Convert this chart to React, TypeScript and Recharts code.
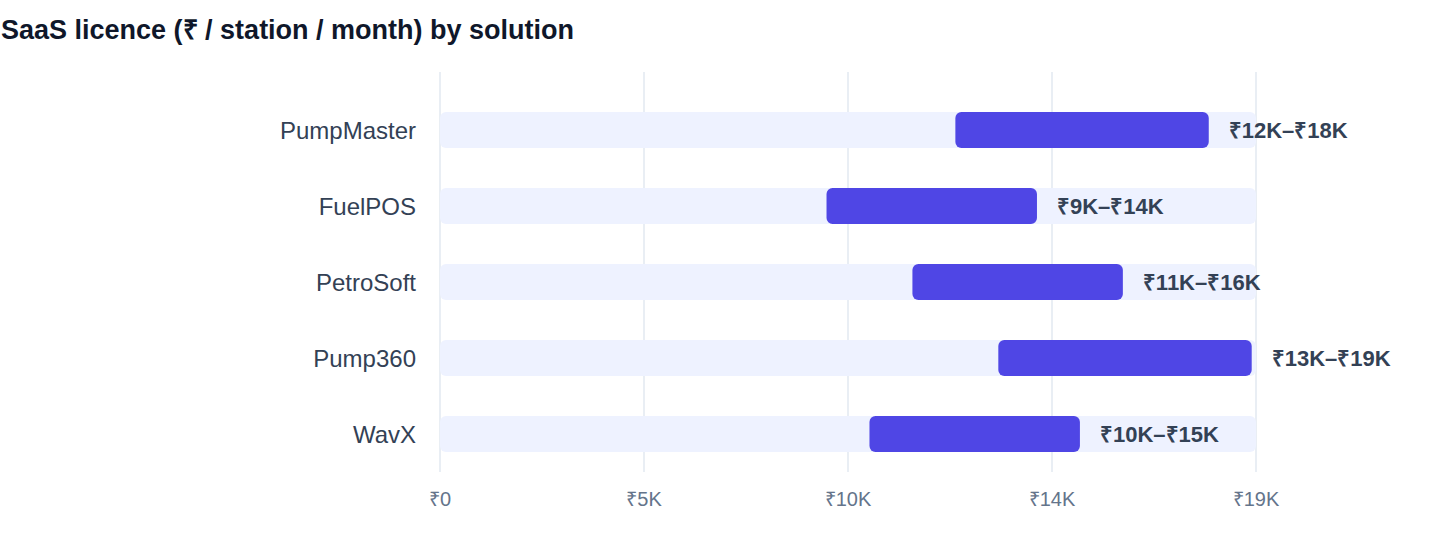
import React from 'react';
import { BarChart, Bar, XAxis, YAxis, CartesianGrid, LabelList } from 'recharts';

const solutions = ['PumpMaster', 'FuelPOS', 'PetroSoft', 'Pump360', 'WavX'];
const lowValues = [12000, 9000, 11000, 13000, 10000];
const highValues = [17900, 13900, 15900, 18900, 14900];
const xTicks = [0, 4750, 9500, 14250, 19000];

const fmtK = (v: number) => (v === 0 ? '₹0' : `₹${Math.round(v / 1000)}K`);

const data = solutions.map((name, i) => ({
  name,
  range: [lowValues[i], highValues[i]],
  label: `${fmtK(lowValues[i])}–${fmtK(highValues[i])}`,
}));

const FONT = '"Liberation Sans", Arial, sans-serif';

export default function App() {
  return (
    <div style={{ position: 'absolute', left: 0, top: 0, width: 1440, height: 560, background: '#fff', fontFamily: FONT }}>
      <div
        style={{
          position: 'absolute',
          left: 1,
          top: 14,
          fontSize: 27,
          fontWeight: 700,
          color: '#0F172A',
          lineHeight: '32px',
          whiteSpace: 'nowrap',
        }}
      >
        SaaS licence (₹ / station / month) by solution
      </div>
      <div style={{ position: 'absolute', left: 0, top: 0 }}>
        <BarChart
          width={1440}
          height={560}
          data={data}
          layout="vertical"
          margin={{ top: 72, right: 184, bottom: 58, left: 0 }}
          barSize={36}
        >
          <CartesianGrid horizontal={false} stroke="#E2E8F0" strokeWidth={1.5} />
          <XAxis
            type="number"
            domain={[0, 19000]}
            ticks={xTicks}
            tickFormatter={fmtK}
            axisLine={false}
            tickLine={false}
            tickMargin={14}
            tick={{ fill: '#64748B', fontSize: 20, fontFamily: FONT }}
            interval={0}
          />
          <YAxis
            type="category"
            dataKey="name"
            width={440}
            axisLine={false}
            tickLine={false}
            tickMargin={18}
            padding={{ top: 20, bottom: 0 }}
            tick={{ fill: '#334155', fontSize: 24, fontFamily: FONT }}
          />
          <Bar
            dataKey="range"
            fill="#4F46E5"
            radius={6}
            isAnimationActive={false}
            background={{ fill: '#EEF2FF', radius: 6 } as any}
          >
            <LabelList
              dataKey="label"
              position="right"
              offset={20}
              fill="#334155"
              style={{ fontSize: 22, fontWeight: 700, fontFamily: FONT }}
            />
          </Bar>
        </BarChart>
      </div>
    </div>
  );
}
